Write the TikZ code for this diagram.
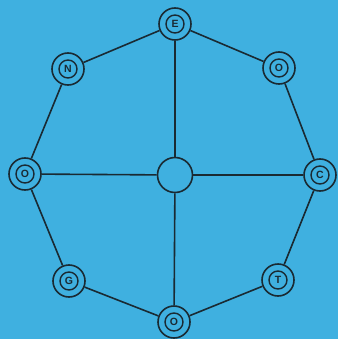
\documentclass[tikz,border=0pt]{standalone}
\usepackage{fontspec}
\setmainfont{Liberation Sans}
\definecolor{bg}{HTML}{3FB0E0}
\definecolor{ink}{HTML}{1A2A33}
\begin{document}
\begin{tikzpicture}[x=1pt,y=-1pt,
  ring/.style={circle,draw=ink,line width=1.6pt,minimum size=32pt,inner sep=0pt,
    font=\bfseries\fontsize{10.5}{10.5}\selectfont,text=ink,
    append after command={\pgfextra{\draw[ink,line width=1.4pt] (\tikzlastnode.center) circle (9pt);}}},
  hub/.style={circle,draw=ink,line width=1.6pt,minimum size=35pt,inner sep=0pt},
  edge/.style={draw=ink,line width=1.6pt}]
\fill[bg] (0,0) rectangle (338,339);
\useasboundingbox (0,0) rectangle (338,339);
\node[hub] (c) at (175,175) {};
\node[ring] (e) at (175,24) {E};
\node[ring] (o1) at (279,68) {O};
\node[ring] (cc) at (320,175) {C};
\node[ring] (t) at (278,280) {T};
\node[ring] (o2) at (174,322) {O};
\node[ring] (g) at (69,281) {G};
\node[ring] (o3) at (25,174) {O};
\node[ring] (n) at (68,69) {N};
\draw[edge] (e) -- (o1) -- (cc) -- (t) -- (o2) -- (g) -- (o3) -- (n) -- (e);
\draw[edge] (c) -- (e);
\draw[edge] (c) -- (cc);
\draw[edge] (c) -- (o2);
\draw[edge] (c) -- (o3);
\end{tikzpicture}
\end{document}
